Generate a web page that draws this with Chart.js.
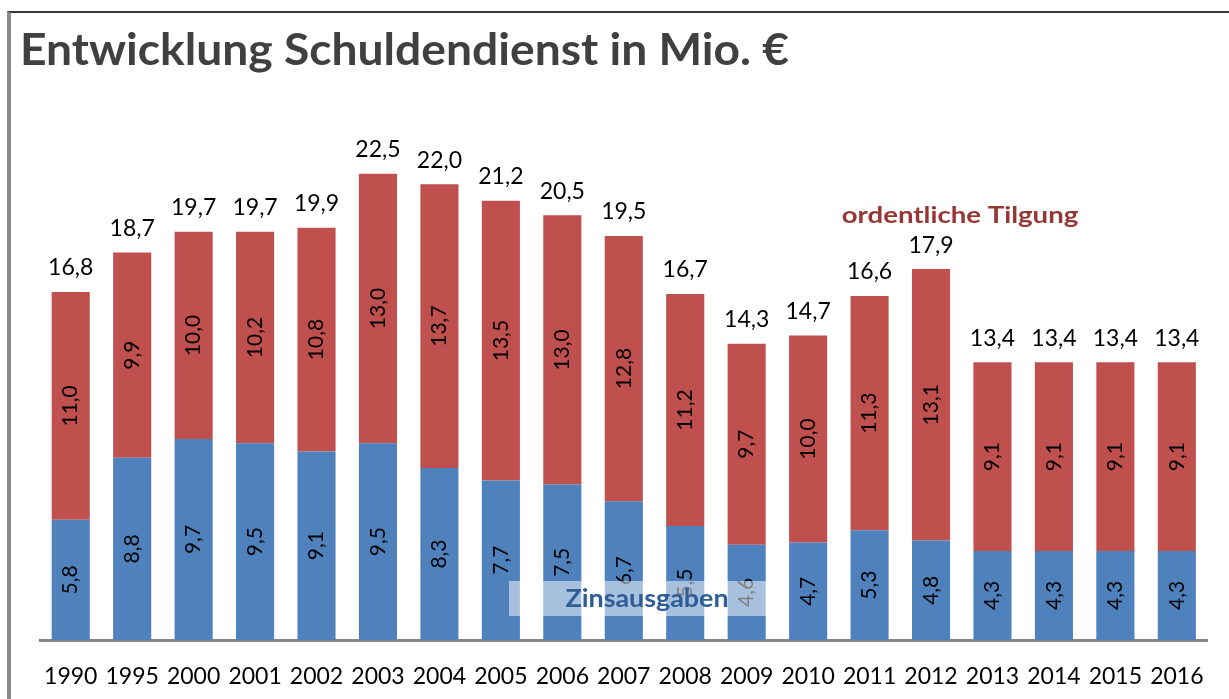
<!DOCTYPE html>
<html>
<head>
<meta charset="utf-8">
<script src="https://cdn.jsdelivr.net/npm/chart.js@4.4.0/dist/chart.umd.min.js"></script>
<style>
  body { margin: 0; background: #fff; }
  #wrap { position: relative; width: 1229px; height: 699px; overflow: hidden; }
  #frame { position: absolute; left: 7px; top: 11px; right: -5px; bottom: -5px;
           border-top: 2px solid #3a3a3a; border-left: 4px solid #8a8a8a; pointer-events: none; }
  canvas { position: absolute; left: 0; top: 0; }
</style>
</head>
<body>
<div id="wrap">
  <canvas id="chart" width="1229" height="699"></canvas>
  <div id="frame"></div>
</div>
<script>
const years = ['1990', '1995', '2000', '2001', '2002', '2003', '2004', '2005', '2006', '2007',
               '2008', '2009', '2010', '2011', '2012', '2013', '2014', '2015', '2016'];
const zinsausgaben = [5.8, 8.8, 9.7, 9.5, 9.1, 9.5, 8.3, 7.7, 7.5, 6.7,
                      5.5, 4.6, 4.7, 5.3, 4.8, 4.3, 4.3, 4.3, 4.3];
const tilgung = [11.0, 9.9, 10.0, 10.2, 10.8, 13.0, 13.7, 13.5, 13.0, 12.8,
                 11.2, 9.7, 10.0, 11.3, 13.1, 9.1, 9.1, 9.1, 9.1];
const totals = [16.8, 18.7, 19.7, 19.7, 19.9, 22.5, 22.0, 21.2, 20.5, 19.5,
                16.7, 14.3, 14.7, 16.6, 17.9, 13.4, 13.4, 13.4, 13.4];

const titleText = 'Entwicklung Schuldendienst in Mio. €';
const FONT = 'Lato, "Open Sans", sans-serif';

function fmt(v) {
  return v.toFixed(1).replace('.', ',');
}

// text drawn a bit wider, like the stretched original
function wideText(ctx, text, x, y, sx) {
  ctx.save();
  ctx.translate(x, y);
  ctx.scale(sx, 1);
  ctx.fillText(text, 0, 0);
  ctx.restore();
}

// value labels inside the bars, totals on top, title and series captions
const labelPlugin = {
  id: 'labelPlugin',
  afterDatasetsDraw(chart) {
    const ctx = chart.ctx;
    ctx.save();
    ctx.fillStyle = '#000';
    ctx.textAlign = 'center';
    ctx.textBaseline = 'middle';

    chart.data.datasets.forEach((ds, di) => {
      const meta = chart.getDatasetMeta(di);
      meta.data.forEach((bar, i) => {
        ctx.save();
        ctx.translate(bar.x, (bar.y + bar.base) / 2);
        ctx.rotate(-Math.PI / 2);
        ctx.font = '21px ' + FONT;
        ctx.fillText(fmt(ds.data[i]), 0, 0);
        ctx.restore();
      });
    });

    const topMeta = chart.getDatasetMeta(1);
    ctx.font = '23px ' + FONT;
    topMeta.data.forEach((bar, i) => {
      ctx.fillText(fmt(totals[i]), bar.x, bar.y - 24);
    });

    // title
    ctx.textAlign = 'left';
    ctx.textBaseline = 'alphabetic';
    ctx.fillStyle = '#404040';
    ctx.font = 'bold 44px ' + FONT;
    wideText(ctx, titleText, 20, 65, 1.05);

    // caption for the red series
    ctx.textAlign = 'center';
    ctx.textBaseline = 'middle';
    ctx.fillStyle = '#953735';
    ctx.font = 'bold 23px ' + FONT;
    wideText(ctx, 'ordentliche Tilgung', 960, 216, 1.2);

    // caption for the blue series, on a light box
    ctx.fillStyle = 'rgba(255,255,255,0.5)';
    ctx.fillRect(509, 581, 259, 35);
    ctx.fillStyle = '#2f5d96';
    ctx.font = 'bold 24px ' + FONT;
    wideText(ctx, 'Zinsausgaben', 647, 599, 1.12);

    ctx.restore();
  }
};

new Chart(document.getElementById('chart'), {
  type: 'bar',
  data: {
    labels: years,
    datasets: [
      {
        label: 'Zinsausgaben',
        data: zinsausgaben,
        backgroundColor: '#4f81bd',
        barPercentage: 0.62,
        categoryPercentage: 1.0
      },
      {
        label: 'ordentliche Tilgung',
        data: tilgung,
        backgroundColor: '#c0504d',
        barPercentage: 0.62,
        categoryPercentage: 1.0
      }
    ]
  },
  options: {
    responsive: false,
    animation: false,
    devicePixelRatio: 1,
    layout: {
      padding: { left: 40, right: 19, top: 122, bottom: 0 }
    },
    plugins: {
      legend: { display: false },
      tooltip: { enabled: false },
      title: { display: false }
    },
    scales: {
      x: {
        stacked: true,
        grid: { display: false, drawTicks: false },
        border: { display: true, color: '#868686', width: 3 },
        ticks: {
          color: '#000',
          font: { family: FONT, size: 23, lineHeight: 1 },
          padding: 25,
          maxRotation: 0,
          autoSkip: false
        },
        afterFit(scale) {
          scale.height = 59;
        }
      },
      y: {
        stacked: true,
        display: false,
        min: 0,
        max: 25
      }
    }
  },
  plugins: [labelPlugin]
});
</script>
</body>
</html>
